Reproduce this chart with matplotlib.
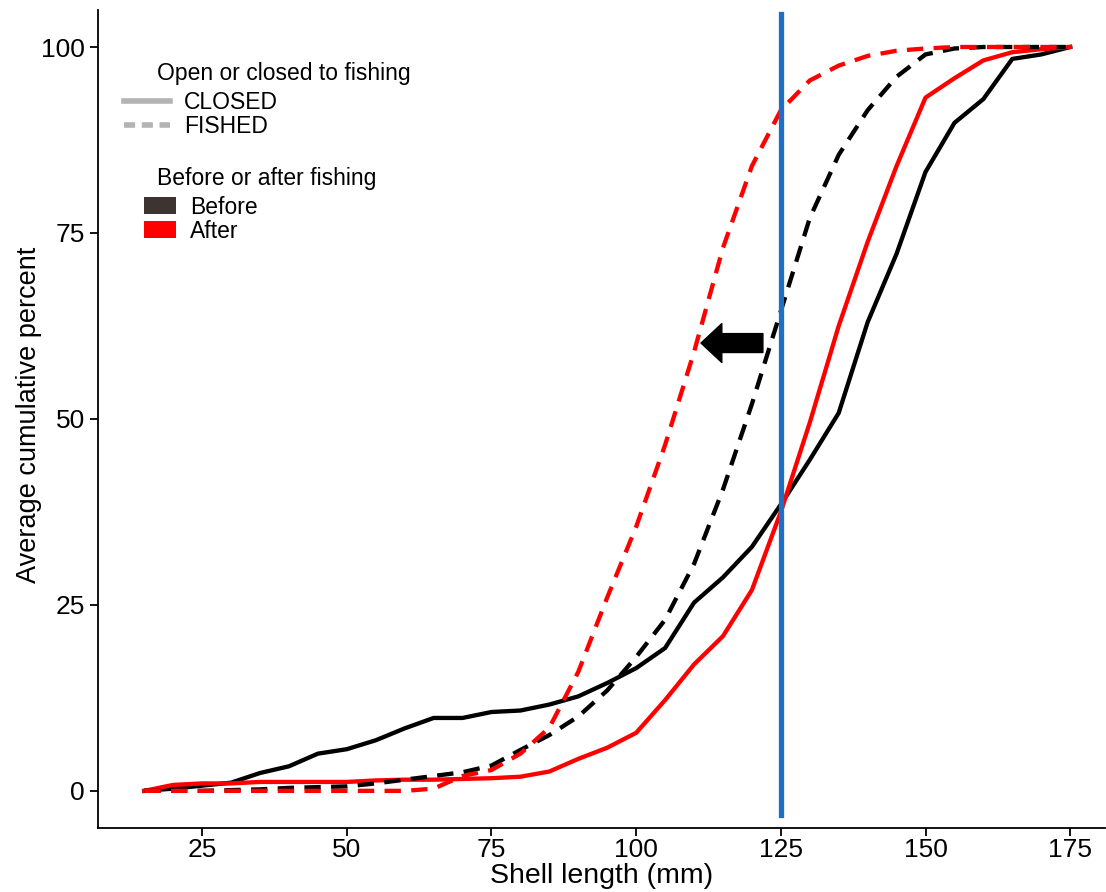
import matplotlib
matplotlib.use("Agg")
import matplotlib.pyplot as plt
from matplotlib.lines import Line2D
from matplotlib.patches import Patch

plt.rcParams['font.family'] = ['Liberation Sans', 'DejaVu Sans']

# shell length bins (mm)
lengths = [15, 20, 25, 30, 35, 40, 45, 50, 55, 60, 65, 70, 75, 80, 85, 90, 95,
           100, 105, 110, 115, 120, 125, 130, 135, 140, 145, 150, 155, 160, 165, 170, 175]

# average cumulative percent
closed_before = [0, 0.3, 0.7, 1.1, 2.4, 3.3, 5.0, 5.6, 6.8, 8.4, 9.8, 9.8, 10.6, 10.8, 11.6,
                 12.7, 14.5, 16.5, 19.2, 25.3, 28.7, 32.8, 38.5, 44.5, 50.8, 63.0, 72.2,
                 83.2, 89.8, 93.0, 98.4, 99.0, 100]
closed_after = [0, 0.8, 1.0, 1.0, 1.2, 1.2, 1.2, 1.2, 1.4, 1.5, 1.5, 1.6, 1.7, 1.9, 2.6,
                4.3, 5.8, 7.8, 12.2, 17.0, 20.8, 27.0, 37.5, 49.5, 62.5, 73.8, 84.0,
                93.2, 95.8, 98.2, 99.3, 99.7, 100]
fished_before = [0, 0, 0, 0.1, 0.2, 0.4, 0.5, 0.6, 1.0, 1.5, 2.0, 2.5, 3.4, 5.5, 7.5,
                 10.0, 13.5, 18.0, 23.0, 30.5, 40.5, 52.0, 64.5, 77.0, 85.5, 91.5, 96.0,
                 99.0, 99.8, 100, 100, 100, 100]
fished_after = [0, 0, 0, 0, 0, 0, 0, 0, 0, 0, 0.3, 2.0, 2.8, 5.0, 8.5,
                16.0, 26.0, 35.5, 46.5, 59.0, 73.0, 84.0, 91.5, 95.5, 97.5, 98.8, 99.5,
                99.8, 100, 100, 100, 100, 100]

cutoff = 125
cutoff_span = [-3.3, 104.5]
arrow_from = (121.9, 60.2)
arrow_to = (111.2, 60.2)

fig = plt.figure(figsize=(11.06, 8.92), dpi=100)
ax = fig.add_axes([0.0886, 0.0717, 0.9104, 0.9173])

lw = 3.1
dash = (3.8, 2.4)
ax.plot(lengths, closed_before, color='black', lw=lw, solid_joinstyle='round')
ax.plot(lengths, closed_after, color='#ff0000', lw=lw, solid_joinstyle='round')
ax.plot(lengths, fished_before, color='black', lw=lw, dashes=dash)
ax.plot(lengths, fished_after, color='#ff0000', lw=lw, dashes=dash)

ax.plot([cutoff, cutoff], cutoff_span, color='#1f6fc4', lw=3.8)

ax.annotate('', xy=arrow_to, xytext=arrow_from,
            arrowprops=dict(arrowstyle='simple,head_length=0.75,head_width=1.4,tail_width=0.68',
                            color='black', shrinkA=0, shrinkB=0, mutation_scale=20))

ax.set_xlim(7, 181)
ax.set_ylim(-5, 105)
ax.set_xticks([25, 50, 75, 100, 125, 150, 175])
ax.set_yticks([0, 25, 50, 75, 100])
ax.tick_params(labelsize=19, length=6, width=1.3, colors='black')
ax.tick_params(axis='x', pad=1.5)
for s in ['top', 'right']:
    ax.spines[s].set_visible(False)
for s in ['left', 'bottom']:
    ax.spines[s].set_linewidth(1.3)
ax.set_xlabel('Shell length (mm)', fontsize=20.5)
ax.set_ylabel('Average cumulative percent', fontsize=19.5)
ax.xaxis.set_label_coords(0.5, -0.043)
ax.yaxis.set_label_coords(-0.056, 0.505)

# legends (titles placed as text, slightly indented like the original)
ax.text(0.0586, 0.922, 'Open or closed to fishing', transform=ax.transAxes,
        fontsize=16.5, ha='left', va='center')
h1 = [Line2D([], [], color='#b3b3b3', lw=4, label='CLOSED'),
      Line2D([], [], color='#b3b3b3', lw=4, dashes=(2, 1.2), label='FISHED')]
leg1 = ax.legend(handles=h1, loc='upper left', bbox_to_anchor=(0.026, 0.901),
                 frameon=False, fontsize=16.5, handlelength=2.0, handletextpad=0.6,
                 labelspacing=0.05, borderaxespad=0, borderpad=0)
ax.add_artist(leg1)

ax.text(0.0586, 0.794, 'Before or after fishing', transform=ax.transAxes,
        fontsize=16.5, ha='left', va='center')
h2 = [Patch(facecolor='#3d3431', edgecolor='none', label='Before'),
      Patch(facecolor='#ff0000', edgecolor='none', label='After')]
leg2 = ax.legend(handles=h2, loc='upper left', bbox_to_anchor=(0.046, 0.773),
                 frameon=False, fontsize=16.5, handlelength=1.4, handleheight=0.8,
                 handletextpad=0.6, labelspacing=0.05, borderaxespad=0, borderpad=0)

fig.savefig('out.png', dpi=100)
